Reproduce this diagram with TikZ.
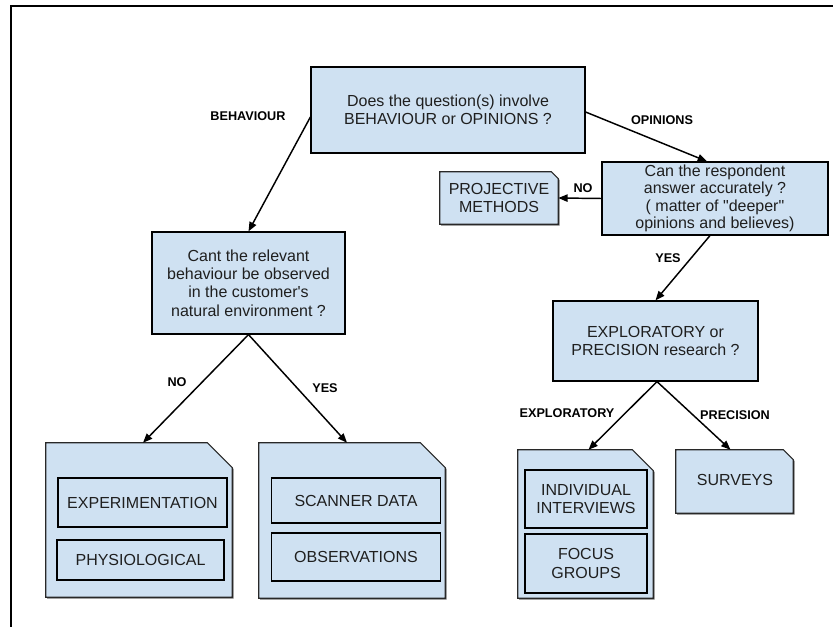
\documentclass[tikz,border=0pt]{standalone}
\usepackage{fontspec}
\setmainfont{Liberation Sans}[Ligatures=TeXOff]
\usetikzlibrary{arrows.meta,calc}
\definecolor{boxblue}{RGB}{207,225,242}
\definecolor{shadowgray}{RGB}{110,110,110}
\definecolor{docline}{RGB}{40,40,40}
\tikzset{
  txt/.style={font=\fontsize{12}{13.8}\selectfont, align=center, inner sep=0pt, text=black!88},
  qbox/.style={txt, rectangle, draw=black, line width=0.9pt, fill=boxblue,
    preaction={fill=shadowgray, transform canvas={xshift=1.1pt,yshift=-1.1pt}}},
  inbox/.style={txt, rectangle, draw=black, line width=1.4pt, fill=boxblue},
  docholder/.style={rectangle, inner sep=0pt},
  docfill/.style={draw=docline, line width=0.8pt, fill=boxblue,
    preaction={fill=shadowgray, transform canvas={xshift=1.1pt,yshift=-1.1pt}}},
  lbl/.style={font=\fontsize{9.5}{11}\selectfont\bfseries, inner sep=0pt},
  arr/.style={draw=black, line width=1.1pt, -{Triangle[length=7pt,width=5.5pt]}},
  frameline/.style={draw=black, line width=1.5pt}
}
\newcommand{\docoutline}[2]{%
  \path[docfill] (#1.south west) -- (#1.north west) -- ($(#1.north east)+(-#2,0)$)
    -- ($(#1.north east)+(0,#2)$) -- (#1.south east) -- cycle;}
\begin{document}
\begin{tikzpicture}[x=0.75pt,y=-0.75pt]
\useasboundingbox (0,0) rectangle (833,627);
% frame
\coordinate (fA) at (11,6);
\coordinate (fB) at (833,6);
\coordinate (fC) at (11,627);
\draw[frameline] (fB) -- (fA) -- (fC);

% decision boxes
\node[qbox, minimum width=274*0.75pt, minimum height=86*0.75pt] (q1) at (448,110)
  {Does the question(s) involve\\BEHAVIOUR or OPINIONS ?};
\node[qbox, minimum width=193*0.75pt, minimum height=102*0.75pt] (q2) at (248.5,283)
  {Cant the relevant\\behaviour be observed\\in the customer's\\natural environment ?};
\node[qbox, minimum width=226*0.75pt, minimum height=73*0.75pt, font=\fontsize{12}{13}\selectfont] (can) at (715,198.5)
  {Can the respondent\\answer accurately ?\\( matter of "deeper"\\opinions and believes)};
\node[qbox, minimum width=205*0.75pt, minimum height=80*0.75pt] (expl) at (655.5,341)
  {EXPLORATORY or\\PRECISION research ?};

% document shapes
\node[docholder, minimum width=118*0.75pt, minimum height=52*0.75pt] (proj) at (499,198) {};
\docoutline{proj}{7}
\node[txt] (projt) at (proj.center) {PROJECTIVE\\METHODS};

\node[docholder, minimum width=186*0.75pt, minimum height=154*0.75pt] (docA) at (139,520) {};
\docoutline{docA}{25}
\node[inbox, minimum width=169*0.75pt, minimum height=49*0.75pt] (expbox) at (142.5,502.5) {EXPERIMENTATION};
\node[inbox, minimum width=167*0.75pt, minimum height=40*0.75pt] (physbox) at (140.5,560) {PHYSIOLOGICAL};

\node[docholder, minimum width=186*0.75pt, minimum height=155*0.75pt] (docB) at (352,520.5) {};
\docoutline{docB}{25}
\node[inbox, minimum width=169*0.75pt, minimum height=45*0.75pt] (scanbox) at (356,500.5) {SCANNER DATA};
\node[inbox, minimum width=169*0.75pt, minimum height=48*0.75pt] (obsbox) at (356,557) {OBSERVATIONS};

\node[docholder, minimum width=135*0.75pt, minimum height=148*0.75pt] (docC) at (585.5,524) {};
\docoutline{docC}{21}
\node[inbox, minimum width=122*0.75pt, minimum height=58*0.75pt] (indbox) at (586,499) {INDIVIDUAL\\INTERVIEWS};
\node[inbox, minimum width=122*0.75pt, minimum height=59*0.75pt] (focbox) at (586,563.5) {FOCUS\\GROUPS};

\node[docholder, minimum width=117*0.75pt, minimum height=63*0.75pt] (survey) at (734.5,481.5) {};
\docoutline{survey}{10}
\node[txt] (survt) at (735,480) {SURVEYS};

% connectors
\draw[arr] ($(q1.west)+(0,7)$) -- (q2.north);
\draw[arr] ($(q1.east)+(0,2)$) -- ($(can.north)+(-8,0)$);
\draw[arr] (can.west) -- (proj.east);
\draw[arr] ($(can.south)+(-5,0)$) -- (expl.north);
\draw[arr] (q2.south) -- ($(docA.north)+(4,0)$);
\draw[arr] (q2.south) -- ($(docB.north)+(-5,0)$);
\draw[arr] ($(expl.south)+(1.5,0)$) -- ($(docC.north)+(3,0)$);
\draw[arr] ($(expl.south)+(1.5,0)$) -- ($(survey.north)+(-4,0)$);

% labels
\node[lbl] (lbeh) at (248,116) {BEHAVIOUR};
\node[lbl] (lopi) at (662,120) {OPINIONS};
\node[lbl] (lno1) at (583,188) {NO};
\node[lbl] (lyes1) at (668,258) {YES};
\node[lbl] (lno2) at (177,382) {NO};
\node[lbl] (lyes2) at (325,388) {YES};
\node[lbl] (lexp) at (567,413) {EXPLORATORY};
\node[lbl] (lpre) at (735,415) {PRECISION};
\end{tikzpicture}
\end{document}
